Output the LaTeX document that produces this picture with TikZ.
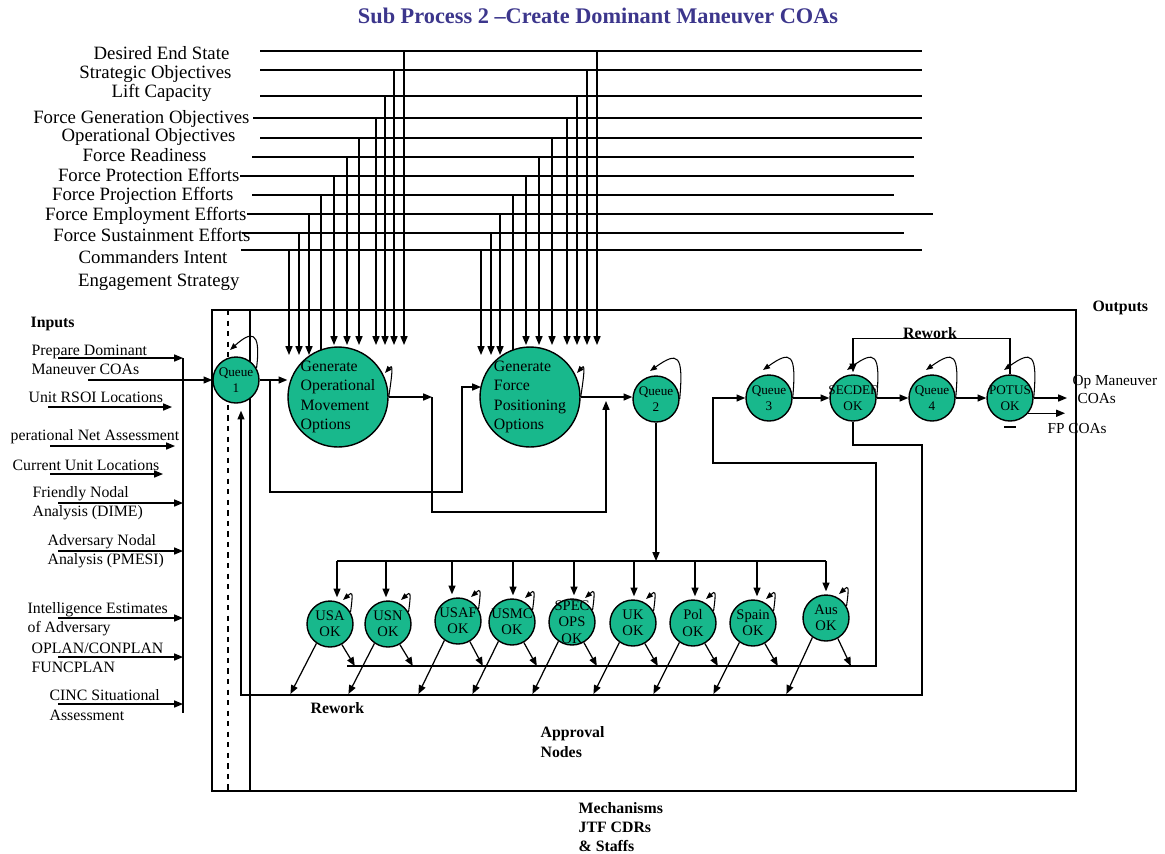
\documentclass[tikz,border=0pt]{standalone}
\usepackage{fontspec}
\setmainfont{Liberation Serif}
\usetikzlibrary{arrows.meta,calc}
\definecolor{ngreen}{RGB}{24,184,140}
\definecolor{titleblue}{RGB}{60,54,140}
\newcommand{\mysloop}[1]{\draw[sarr] (#1.30) .. controls +(3,-22) and +(9,-8) .. ($(#1.center)+(13,-24)$);}
\newcommand{\myqloop}[1]{\draw[sarr] (#1.east) .. controls +(4,-45) and +(28,-20) .. ($(#1.center)+(-6,-28)$);}
\newcommand{\mybloop}[1]{\draw[sarr] (#1.east) .. controls +(5,-32) and +(7,-8) .. ($(#1.center)+(47,-24)$);}
\begin{document}
\begin{tikzpicture}[x=0.02cm,y=-0.02cm,line width=0.7pt,
  arr/.style={-{Triangle[length=5pt,width=4pt]}},
  sarr/.style={-{Triangle[length=4pt,width=3pt]},line width=0.6pt},
  circ/.style={circle,draw,line width=0.8pt,fill=ngreen,inner sep=0pt,minimum size=0.92cm},
  bigc/.style={circle,draw,line width=0.8pt,fill=ngreen,inner sep=0pt,minimum size=2cm},
  ctext/.style={font=\fontsize{7.5}{9}\selectfont,align=center,inner sep=0pt},
  atext/.style={font=\fontsize{8.3}{9.3}\selectfont,align=center,inner sep=0pt},
  btext/.style={font=\fontsize{9}{11}\selectfont,align=left,inner sep=0pt},
  toplab/.style={font=\fontsize{10.7}{12}\selectfont,anchor=east,inner sep=0pt,text height=7.3pt,text depth=1.8pt},
  inlab/.style={font=\fontsize{9}{11}\selectfont,anchor=west,align=left,inner sep=0pt},
  boldlab/.style={font=\fontsize{9}{11}\bfseries\selectfont,anchor=west,align=left,inner sep=0pt}]

\useasboundingbox (0,0) rectangle (1165,853);

\node[font=\fontsize{12.7}{15}\bfseries\selectfont,text=titleblue,inner sep=0pt] (title) at (598,16) {Sub Process 2 –Create Dominant Maneuver COAs};

% top control labels
\node[toplab] (c1) at (230,55) {Desired End State};
\node[toplab] (c2) at (232,74) {Strategic Objectives};
\node[toplab] (c3) at (212,93) {Lift Capacity};
\node[toplab] (c4) at (250,119) {Force Generation Objectives};
\node[toplab] (c5) at (236,137) {Operational Objectives};
\node[toplab] (c6) at (207,157) {Force Readiness};
\node[toplab] (c7) at (240,177) {Force Protection Efforts};
\node[toplab] (c8) at (234,196) {Force Projection Efforts};
\node[toplab] (c9) at (247,216) {Force Employment Efforts};
\node[toplab] (c10) at (251,237) {Force Sustainment Efforts};
\node[toplab] (c11) at (228,259) {Commanders Intent};
\node[toplab] (c12) at (240,282) {Engagement Strategy};

% horizontal control lines
\foreach \y/\xs/\xe in {51/260/922, 70/260/922, 96/260/922, 118/253/922, 138/260/922, 157/252/914, 176/240/914, 195/252/894, 214/247/933, 233/242/904, 250/241/922}
  \draw (\xs,\y) -- (\xe,\y);

% vertical drops
\foreach \x/\t/\b in {289/250/355, 299/233/355, 309/214/355, 334/176/345, 347/157/345, 359/138/345, 376/118/345, 385/96/345, 394/70/345, 404/51/345,
                     481/250/355, 491/233/355, 500/214/355, 526/176/345, 539/157/345, 552/138/345, 567/118/345, 577/96/345, 587/70/345, 597/51/345}
  \draw[arr] (\x,\t) -- (\x,\b);
\draw (321,195) -- (321,362);
\draw (513,195) -- (513,362);

% main frame
\draw (212,310) rectangle (1076,791);
\draw[dashed] (228,310) -- (228,791);
\draw (250,310) -- (250,791);

% inputs
\draw (183,358) -- (183,713);
\foreach \y in {358,503,551,618,657,704}
  \draw[arr] (58,\y) -- (183,\y);
\draw[arr] (48,407) -- (172,407);
\draw[arr] (50,446) -- (175,446);
\draw[arr] (50,474) -- (163,474);

\node[boldlab] (inputs) at (30,324) {Inputs};
\node[inlab] (i1) at (31,360) {Prepare Dominant\\Maneuver COAs};
\node[inlab] (i2) at (28,397) {Unit RSOI Locations};
\node[inlab] (i3) at (10,437) {perational Net Assessment};
\node[inlab] (i4) at (12,465) {Current Unit Locations};
\node[inlab] (i5) at (32,503) {Friendly Nodal\\Analysis (DIME)};
\node[inlab] (i6) at (47,551) {Adversary Nodal\\Analysis (PMESI)};
\node[inlab] (i7) at (27,619) {Intelligence Estimates\\of Adversary};
\node[inlab] (i8) at (31,658) {OPLAN/CONPLAN\\FUNCPLAN};
\node[inlab] (i9) at (49,705) {CINC Situational\\Assessment};

% nodes
\node[circ] (q1) at (236,380) {};
\node[ctext] (q1t) at (q1.center) {Queue\\1};
\node[bigc] (genop) at (338,397) {};
\node[btext] (genopt) at (genop.center) {Generate\\Operational\\Movement\\Options};
\node[bigc] (genfp) at (530,397) {};
\node[btext] (genfpt) at (genfp.center) {Generate\\Force\\Positioning\\Options};
\node[circ] (q2) at (656,399) {};
\node[ctext] (q2t) at (q2.center) {Queue\\2};
\node[circ] (q3) at (769,398) {};
\node[ctext] (q3t) at (q3.center) {Queue\\3};
\node[circ] (secdef) at (853,398) {};
\node[ctext] (secdeft) at (secdef.center) {SECDEF\\OK};
\node[circ] (q4) at (932,398) {};
\node[ctext] (q4t) at (q4.center) {Queue\\4};
\node[circ] (potus) at (1010,398) {};
\node[ctext] (potust) at (potus.center) {POTUS\\OK};

\foreach \n/\x/\y/\t in {usa/330/624/{USA\\OK}, usn/388/624/{USN\\OK}, usaf/458/621/{USAF\\OK}, usmc/512/622/{USMC\\OK},
   spec/572/622/{SPEC\\OPS\\OK}, uk/633/623/{UK\\OK}, pol/693/623/{Pol\\OK}, spain/753/623/{Spain\\OK}, aus/826/618/{Aus\\OK}}{
  \node[circ] (\n) at (\x,\y) {};
  \node[atext] (\n t) at (\n.center) {\t};
}

% self loops
\draw[sarr] (q1.30) .. controls +(5,-40) and +(20,-18) .. ($(q1.center)+(-6,-30)$);
\mybloop{genop}
\mybloop{genfp}
\myqloop{q2}
\myqloop{q3}
\myqloop{secdef}
\myqloop{q4}
\myqloop{potus}
\foreach \n in {usa,usn,usaf,usmc,spec,uk,pol,spain,aus} {\mysloop{\n}}

% main flow
\draw[arr] (88,380) -- (q1.west);
\draw[arr] (q1.east) -- (q1.east -| genop.west);
\coordinate (b1) at (270,380);
\draw[arr] (b1) |- (462,492) |- ($(genfp.center)+(-49,-10)$);
\draw[arr] (genop.east) -- (432,397);
\draw[arr] (432,397) |- (606,512) -- (606,401);
\draw[arr] (genfp.east) -- (genfp.east -| q2.west);
\coordinate (dl) at (0,561);
\coordinate (ul) at (0,666);
\coordinate (rl) at (0,694);
\draw[arr] (q2.south) -- (q2.south |- dl);
\draw (337,561) -- (826,561);
\foreach \n/\dx in {usa/7, usn/-2, usaf/-6, usmc/1, spec/2, uk/1, pol/2, spain/4, aus/0}
  \draw[arr] ($(\n.north |- dl)+(\dx,0)$) -- ($(\n.north)+(\dx,-3)$);

% approval outputs
\foreach \n in {usa,usn,usaf,usmc,spec,uk,pol,spain,aus} {
  \draw[arr] (\n.-60) -- ($(\n.-60 |- ul)+(13,0)$);
  \draw[arr] (\n.-125) -- ($(\n.-125 |- rl)+(-26,0)$);
}
\draw[arr] (347,666) -- (876,666) -- (876,463) -| (713,398) -- (q3.west);
\draw[arr] (secdef.south) |- (922,445) |- (241,695) -- ($(q1.south)+(5,7)$);

% right chain
\draw[arr] (q3.east) -- (secdef.west);
\draw[arr] (secdef.east) -- (q4.west);
\draw[arr] (q4.east) -- (potus.west);
\draw[arr] (potus.north) |- ($(secdef.north)+(0,-36)$) -- ($(secdef.north)+(0,-2)$);
\coordinate (oend) at (1067,0);
\coordinate (fend) at (1065,0);
\draw[arr] (potus.east) -- (potus.east -| oend);
\draw[arr] (potus.-40) -- (potus.-40 -| fend);
\draw (1004,427) -- (1016,427);

% labels
\node[boldlab,anchor=center] (rw1) at (930,333) {Rework};
\node[boldlab] (rw2) at (310,708) {Rework};
\node[boldlab] (outputs) at (1092,308) {Outputs};
\node[inlab,font=\fontsize{8.7}{10}\selectfont] (o1) at (1072,382) {Op Maneuver};
\node[inlab,font=\fontsize{8.7}{10}\selectfont] (o2) at (1077,399) {COAs};
\node[inlab,font=\fontsize{8.7}{10}\selectfont] (o3) at (1047,429) {FP COAs};
\node[boldlab] (appr) at (540,742) {Approval\\Nodes};
\node[boldlab] (mech) at (578,827) {Mechanisms\\JTF CDRs\\\& Staffs};

\end{tikzpicture}
\end{document}
